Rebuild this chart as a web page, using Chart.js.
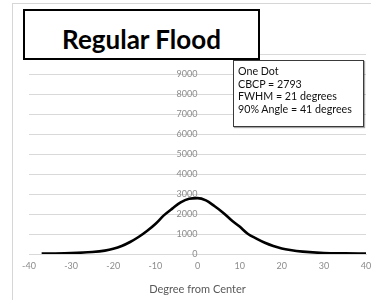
<!DOCTYPE html>
<html>
<head>
<meta charset="utf-8">
<script src="https://cdn.jsdelivr.net/npm/chart.js@4.4.1/dist/chart.umd.min.js"></script>
<style>
  html, body { margin: 0; padding: 0; background: #fff; }
  #wrap { position: relative; width: 371px; height: 300px; overflow: hidden; font-family: Lato, "Open Sans", sans-serif; }
  #frame { position: absolute; left: 12px; top: 3px; width: 400px; height: 400px; border-left: 1px solid #d6d6d6; border-top: 1px solid #d6d6d6; }
  #title { position: absolute; left: 23px; top: 9px; width: 233px; height: 47px; border: 2px solid #000; background: #fff;
           font-weight: bold; font-size: 26px; line-height: 1; text-align: center; box-sizing: content-box; }
  #title span { position: absolute; left: 0; right: 0; top: 15px; }
  #note { position: absolute; left: 233px; top: 60px; width: 129px; height: 65px; border: 1px solid #3a3a3a; background: #fff;
          box-shadow: 1px 1px 1px rgba(0,0,0,0.35); font-size: 10.7px; line-height: 12.6px; color: #111; }
  #note div { position: absolute; left: 4px; top: 4px; white-space: nowrap; }
  canvas { position: absolute; left: 0; top: 0; }
</style>
</head>
<body>
<div id="wrap">
  <canvas id="c" width="371" height="300"></canvas>
  <div id="frame"></div>
  <div id="title"><span>Regular Flood</span></div>
  <div id="note"><div>One Dot<br>CBCP = 2793<br>FWHM = 21 degrees<br>90% Angle = 41 degrees</div></div>
</div>
<script>
const degrees = [-37, -35, -30, -25, -22, -20, -18, -16, -14, -12, -10, -8, -6, -4, -2, 0, 2, 4, 6, 8, 10, 12, 14, 16, 18, 20, 22, 25, 30, 35, 40];
const intensity = [20, 25, 45, 100, 170, 260, 400, 600, 850, 1150, 1500, 1930, 2270, 2580, 2760, 2793, 2680, 2400, 2080, 1700, 1370, 1000, 770, 560, 400, 280, 200, 120, 50, 30, 20];
const xTicks = [-40, -30, -20, -10, 0, 10, 20, 30, 40];
const yTicks = [0, 1000, 2000, 3000, 4000, 5000, 6000, 7000, 8000, 9000, 10000];
const xTitle = 'Degree from Center';

const points = degrees.map((d, i) => ({ x: d, y: intensity[i] }));

new Chart(document.getElementById('c'), {
  type: 'line',
  data: {
    datasets: [{
      data: points,
      borderColor: '#000',
      borderWidth: 2.6,
      pointRadius: 0,
      fill: false,
      cubicInterpolationMode: 'monotone'
    }]
  },
  options: {
    responsive: false,
    animation: false,
    events: [],
    layout: { padding: { left: 29, right: 5, top: 54, bottom: 4 } },
    plugins: { legend: { display: false }, tooltip: { enabled: false } },
    scales: {
      x: {
        type: 'linear',
        min: -40, max: 40,
        afterBuildTicks: (s) => { s.ticks = xTicks.map(v => ({ value: v })); },
        afterFit: (s) => { s.paddingLeft = 4; s.paddingRight = 4; },
        grid: { display: false, drawTicks: false },
        border: { display: true, color: '#d9d9d9' },
        ticks: { color: '#8c8c8c', font: { family: 'Lato', size: 9 }, padding: 7, maxRotation: 0, autoSkip: false,
                 callback: (v) => String(v) },
        title: { display: true, text: xTitle, color: '#595959', font: { family: 'Lato', size: 11 }, padding: { top: 4, bottom: 0 } }
      },
      y: {
        type: 'linear',
        min: 0, max: 10000,
        position: { x: 0 },
        afterBuildTicks: (s) => { s.ticks = yTicks.map(v => ({ value: v })); },
        afterFit: (s) => { s.width = 0; },
        grid: { color: '#d9d9d9', lineWidth: 1, drawTicks: false },
        border: { display: false },
        ticks: { color: '#8c8c8c', font: { family: 'Lato', size: 9 }, padding: 9, autoSkip: false,
                 callback: (v) => String(v) }
      }
    }
  }
});
</script>
</body>
</html>
